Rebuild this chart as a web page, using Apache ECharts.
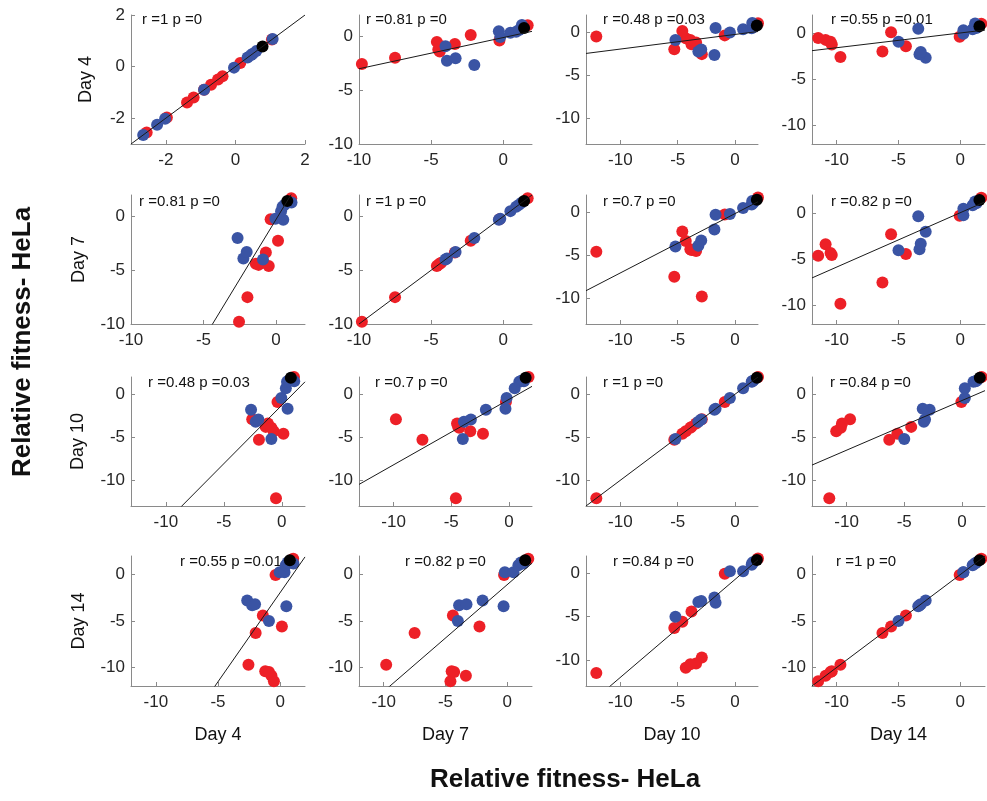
<!DOCTYPE html>
<html>
<head>
<meta charset="utf-8">
<script src="https://cdn.jsdelivr.net/npm/echarts@6/dist/echarts.min.js"></script>
<style>
html,body{margin:0;padding:0;background:#fff;}
#chart{width:987px;height:801px;}
</style>
</head>
<body>
<div id="chart"></div>
<script>
// ---------------- data ----------------
const dayNames = ['Day 4', 'Day 7', 'Day 10', 'Day 14'];

// red group: value at each day
const redDay4  = [-2.55, -1.97, -1.39, -1.2, -0.7, -0.5, -0.37, 0.14, 1.05, -0.9];
const redDay7  = [-9.8, -7.5, -4.4, -4.5, -3.35, -4.6, -0.26, -2.25, 1.7, -4.3];
const redDay10 = [-2.9, -5.3, -3.8, -3.4, -4.3, -12.1, -0.9, -4.6, 2.0, -3.9];
const redDay14 = [-9.7, -6.3, -4.4, -10.4, -10.9, -11.5, -0.05, -5.6, 1.7, -10.5];

// blue group
const blueDay4  = [-2.65, -2.25, -2.02, -0.9, -0.04, 0.5, 0.35, 0.45, 0.6, 1.07];
const blueDay7  = [-2.0, -3.9, -3.3, -4.0, -0.2, -0.3, 0.5, 0.9, 1.1, 1.3];
const blueDay10 = [-1.8, -3.2, -2.95, -5.2, -0.45, -1.7, 0.7, 1.45, 1.6, 1.5];
const blueDay14 = [-2.8, -3.3, -3.2, -5.0, 0.25, -3.4, 0.25, 1.0, 1.3, 1.2];

// black reference point
const blackDay4  = [0.78];
const blackDay7  = [1.45];
const blackDay10 = [1.9];
const blackDay14 = [1.55];

// axis lower limits per day (upper limit 2 for all)
const dayAxisMin = [-3, -10, -13, -12];
const axisMaxValue = 2;
const ticksDay4 = [-2, 0, 2];
const ticksOther = [-10, -5, 0];

// fitted lines y = slope*x + intercept, [row = y day][col = x day]
const fitSlope = [
  [1, 0.29, 0.17, 0.16],
  [2.22, 1, 0.69, 0.59],
  [1.36, 0.76, 1, 0.577],
  [1.92, 1.15, 1.13, 1]
];
const fitIntercept = [
  [0, -0.1, -0.26, 0.05],
  [-0.28, 0, -0.16, 0.08],
  [-1.28, -0.61, 0, -0.74],
  [-1.94, -1.08, -0.7, 0]
];
const statText = [
  ['r =1 p =0', 'r =0.81 p =0', 'r =0.48 p =0.03', 'r =0.55 p =0.01'],
  ['r =0.81 p =0', 'r =1 p =0', 'r =0.7 p =0', 'r =0.82 p =0'],
  ['r =0.48 p =0.03', 'r =0.7 p =0', 'r =1 p =0', 'r =0.84 p =0'],
  ['r =0.55 p =0.01', 'r =0.82 p =0', 'r =0.84 p =0', 'r =1 p =0']
];
const axisTitle = 'Relative fitness- HeLa';

// ---------------- layout ----------------
const colLeft = [131, 359, 586, 812];
const colWidth = [174, 173, 172, 173];
const rowTop = [15, 195, 377, 556];
const rowHeight = [129, 129, 129, 130];
const statDx = [[11, 7, 17, 19], [8, 7, 17, 19], [17, 16, 17, 18], [49, 46, 27, 24]];
const statDy = [5, 7, 6, 6];
const rowLabelX = [86, 79, 78, 79];

const FONT = '"Liberation Sans", Arial, sans-serif';
const RED = '#ED2027';
const BLUE = '#3A54A4';
const AXIS = '#8a8a8a';
const TXT = '#262626';

const redCols = [redDay4, redDay7, redDay10, redDay14];
const blueCols = [blueDay4, blueDay7, blueDay10, blueDay14];
const blackCols = [blackDay4, blackDay7, blackDay10, blackDay14];

function pairs(xs, ys) { return xs.map((x, i) => [x, ys[i]]); }

const grids = [], xAxes = [], yAxes = [], series = [], graphics = [];

for (let r = 0; r < 4; r++) {
  for (let c = 0; c < 4; c++) {
    const gi = grids.length;
    grids.push({ left: colLeft[c], top: rowTop[r], width: colWidth[c], height: rowHeight[r], containLabel: false });
    const lo = Math.min(dayAxisMin[r], dayAxisMin[c]);
    const ticks = (r === 0 && c === 0) ? ticksDay4 : ticksOther;
    const axisCommon = {
      type: 'value', gridIndex: gi, min: lo, max: axisMaxValue,
      axisLine: { show: true, onZero: false, lineStyle: { color: AXIS, width: 1 } },
      axisTick: { show: true, inside: true, length: 4, customValues: ticks, lineStyle: { color: AXIS } },
      axisLabel: { show: true, customValues: ticks, color: TXT, fontSize: 17, fontFamily: FONT },
      splitLine: { show: false }
    };
    xAxes.push(Object.assign({}, axisCommon, { position: 'bottom', axisLabel: Object.assign({}, axisCommon.axisLabel, { margin: 8 }) }));
    yAxes.push(Object.assign({}, axisCommon, { position: 'left', axisLabel: Object.assign({}, axisCommon.axisLabel, { margin: 6 }) }));

    const a = fitSlope[r][c], b = fitIntercept[r][c];
    series.push({
      type: 'line', xAxisIndex: gi, yAxisIndex: gi, symbol: 'none', clip: true, silent: true,
      lineStyle: { color: '#1a1a1a', width: 1 },
      data: [[lo, a * lo + b], [axisMaxValue, a * axisMaxValue + b]]
    });
    series.push({
      type: 'scatter', xAxisIndex: gi, yAxisIndex: gi, symbolSize: 12,
      itemStyle: { color: RED, opacity: 1 }, data: pairs(redCols[c], redCols[r])
    });
    series.push({
      type: 'scatter', xAxisIndex: gi, yAxisIndex: gi, symbolSize: 12,
      itemStyle: { color: BLUE, opacity: 1 }, data: pairs(blueCols[c], blueCols[r])
    });
    series.push({
      type: 'scatter', xAxisIndex: gi, yAxisIndex: gi, symbolSize: 12,
      itemStyle: { color: '#000', opacity: 1 }, data: pairs(blackCols[c], blackCols[r])
    });

    graphics.push({
      type: 'text', x: colLeft[c] + statDx[r][c], y: rowTop[r] + statDy[r],
      style: { text: statText[r][c], fill: '#111', font: '15px ' + FONT, textAlign: 'left', textVerticalAlign: 'middle' }
    });
  }
  // row label
  graphics.push({
    type: 'text', x: rowLabelX[r], y: rowTop[r] + rowHeight[r] / 2, rotation: Math.PI / 2,
    style: { text: dayNames[r], fill: '#111', font: '18px ' + FONT, textAlign: 'center', textVerticalAlign: 'middle' }
  });
}
for (let c = 0; c < 4; c++) {
  graphics.push({
    type: 'text', x: colLeft[c] + colWidth[c] / 2, y: 735,
    style: { text: dayNames[c], fill: '#111', font: '18px ' + FONT, textAlign: 'center', textVerticalAlign: 'middle' }
  });
}
graphics.push({
  type: 'text', x: 565, y: 780,
  style: { text: axisTitle, fill: '#111', font: 'bold 26px ' + FONT, textAlign: 'center', textVerticalAlign: 'middle' }
});
graphics.push({
  type: 'text', x: 23, y: 342, rotation: Math.PI / 2,
  style: { text: axisTitle, fill: '#111', font: 'bold 26px ' + FONT, textAlign: 'center', textVerticalAlign: 'middle' }
});

const chart = echarts.init(document.getElementById('chart'), null, { renderer: 'canvas' });
chart.setOption({
  backgroundColor: '#fff',
  animation: false,
  grid: grids,
  xAxis: xAxes,
  yAxis: yAxes,
  series: series,
  graphic: { elements: graphics }
});
</script>
</body>
</html>
